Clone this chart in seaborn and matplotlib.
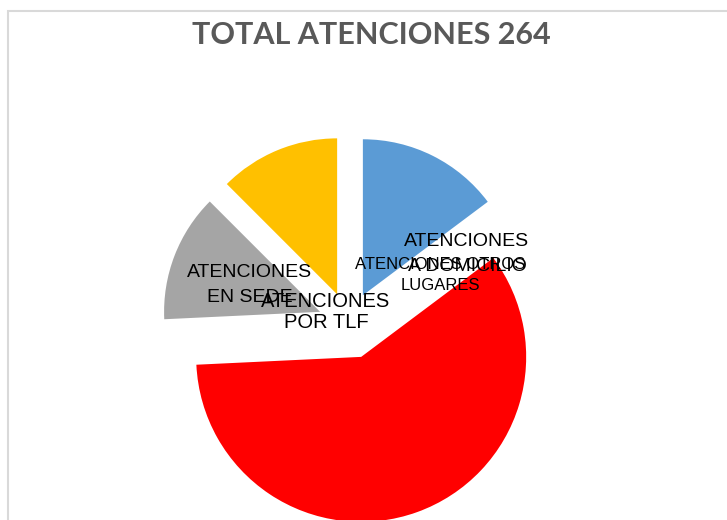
import matplotlib
matplotlib.use('Agg')
import matplotlib.pyplot as plt
import matplotlib.patches as mpatches
import seaborn as sns

sns.set_theme(style='white')
plt.rcParams['font.family'] = ['Liberation Sans', 'DejaVu Sans']

# Data (clockwise from 12 o'clock)
categories = ['ATENCIONES OTROS\nLUGARES', 'ATENCIONES\nA DOMICILIO',
              'ATENCIONES\nEN SEDE', 'ATENCIONES\nPOR TLF']
values = [39, 157, 35, 33]
colors = ['#5B9BD5', '#FF0000', '#A5A5A5', '#FFC000']
title = 'TOTAL ATENCIONES 264'

# label placement (pixels from top-left) and sizes
label_pos = [(440, 275), (467, 254), (250, 285), (326, 312)]
label_size = [12, 14, 14, 14.5]
label_spacing = [1.5, 1.55, 1.55, 1.15]

W, H = 727, 520
fig = plt.figure(figsize=(W / 100, H / 100), dpi=100)
ax = fig.add_axes([0, 0, 1, 1])

# explode offsets are in data units (pixels here)
wedges, _ = ax.pie(values, colors=colors, startangle=90, counterclock=False,
                   explode=[31, 36, 31, 31], radius=156,
                   center=(349, H - 323), wedgeprops=dict(linewidth=0))
wedges[1].set_radius(165)

ax.set_xlim(0, W)
ax.set_ylim(0, H)
ax.set_aspect('equal')
ax.axis('off')

for lab, (x, y), fs, ls in zip(categories, label_pos, label_size, label_spacing):
    ax.text(x, H - y, lab, ha='center', va='center', fontsize=fs,
            color='black', linespacing=ls, multialignment='center')

fig.text(371 / W, 1 - 35 / H, title, ha='center', va='center',
         fontsize=22, fontweight='bold', color='#595959',
         family=['Lato', 'DejaVu Sans'])

# chart border (only top and left visible)
fig.patches.append(mpatches.Rectangle((7.5 / W, -0.1), 1.2, 1.1 - 11 / H,
                                      transform=fig.transFigure, fill=False,
                                      edgecolor='#D9D9D9', linewidth=1.5))

fig.savefig('out.png', dpi=100)
